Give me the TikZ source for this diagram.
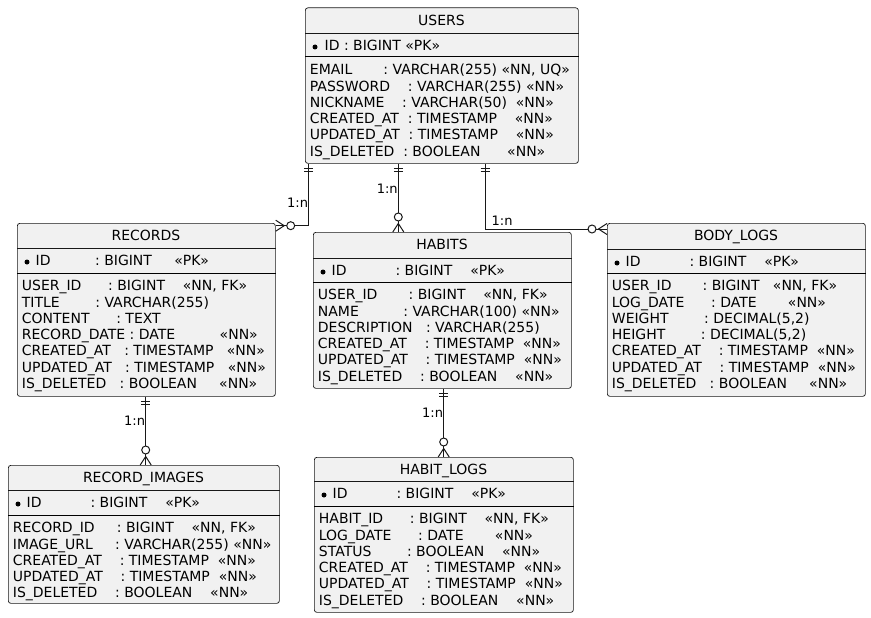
\documentclass[tikz,border=0pt]{standalone}
\usepackage{fontspec}
\setmainfont{DejaVu Sans}
\usetikzlibrary{calc}
\definecolor{entfill}{HTML}{F1F1F1}
\definecolor{entline}{HTML}{181818}
\newcommand\spc[1]{\hspace*{#1\fontdimen2\font}}
\frenchspacing

\begin{document}
\begin{tikzpicture}[
  x=1pt, y=-1pt,
  entity/.style={rectangle, draw=entline, line width=0.7pt, fill=entfill, rounded corners=2.5pt, inner sep=0pt, anchor=north west},
  enttitle/.style={inner sep=0pt, anchor=base, font=\fontsize{14}{16.3}\selectfont},
  pkrow/.style={inner sep=0pt, anchor=base west, font=\fontsize{14}{16.3}\selectfont\frenchspacing},
  fieldrows/.style={inner sep=0pt, anchor=north west, align=left, font=\fontsize{14}{16.3}\selectfont\frenchspacing},
  titlesep/.style={draw=entline, line width=0.7pt},
  pksep/.style={draw=black, line width=1pt},
  rel/.style={draw=entline, line width=1pt},
  card/.style={inner sep=0pt, font=\fontsize{13}{15}\selectfont},
  one/.pic={\draw[rel] (-4.5,5) -- (4.5,5) (-4.5,8) -- (4.5,8);},
  many/.pic={\draw[rel] (-5.5,0) -- (0,-8.5) -- (5.5,0); \draw[rel, fill=white] (0,-15) circle[radius=4pt];}
]
\useasboundingbox (0,0) rectangle (871,618);

% entity boxes
\node[entity, minimum width=273pt, minimum height=155.5pt] (users) at (305,7.5) {};
\node[entity, minimum width=258pt, minimum height=173pt] (records) at (17,223) {};
\node[entity, minimum width=258pt, minimum height=156pt] (habits) at (313,232) {};
\node[entity, minimum width=258pt, minimum height=173pt] (bodylogs) at (607,223) {};
\node[entity, minimum width=271pt, minimum height=138pt] (images) at (8,465) {};
\node[entity, minimum width=259pt, minimum height=155pt] (habitlogs) at (314,457) {};

% separators
\draw[titlesep] (users.west |- 0,33) -- (users.east |- 0,33);
\draw[pksep] (users.west |- 0,57) -- (users.east |- 0,57);
\draw[titlesep] (records.west |- 0,248) -- (records.east |- 0,248);
\draw[pksep] (records.west |- 0,273) -- (records.east |- 0,273);
\draw[titlesep] (habits.west |- 0,258) -- (habits.east |- 0,258);
\draw[pksep] (habits.west |- 0,282) -- (habits.east |- 0,282);
\draw[titlesep] (bodylogs.west |- 0,249) -- (bodylogs.east |- 0,249);
\draw[pksep] (bodylogs.west |- 0,273) -- (bodylogs.east |- 0,273);
\draw[titlesep] (images.west |- 0,490) -- (images.east |- 0,490);
\draw[pksep] (images.west |- 0,515) -- (images.east |- 0,515);
\draw[titlesep] (habitlogs.west |- 0,481) -- (habitlogs.east |- 0,481);
\draw[pksep] (habitlogs.west |- 0,506) -- (habitlogs.east |- 0,506);

% USERS
\node[enttitle] (users-title) at (441.5,25.4) {USERS};
\fill (315,47) circle[radius=2.5pt];
\node[pkrow] (users-pk) at (324.5,50.5) {ID : BIGINT «PK»};
\node[fieldrows] (users-fields) at (309.7,62.5) {\rule{0pt}{12pt}EMAIL\spc{7}: VARCHAR(255) «NN, UQ»\\
  PASSWORD\spc{4}: VARCHAR(255) «NN»\\
  NICKNAME\spc{4}: VARCHAR(50)\spc{2}«NN»\\
  CREATED\_AT\spc{2}: TIMESTAMP\spc{4}«NN»\\
  UPDATED\_AT\spc{2}: TIMESTAMP\spc{4}«NN»\\
  IS\_DELETED\spc{2}: BOOLEAN\spc{6}«NN»};

% RECORDS
\node[enttitle] (records-title) at (146,240.7) {RECORDS};
\fill (27,262) circle[radius=2.5pt];
\node[pkrow] (records-pk) at (35.5,265.5) {ID\spc{10}: BIGINT\spc{5}«PK»};
\node[fieldrows] (records-fields) at (21.7,278.5) {\rule{0pt}{12pt}USER\_ID\spc{6}: BIGINT\spc{4}«NN, FK»\\
  TITLE\spc{8}: VARCHAR(255)\\
  CONTENT\spc{6}: TEXT\\
  RECORD\_DATE : DATE\spc{10}«NN»\\
  CREATED\_AT\spc{3}: TIMESTAMP\spc{3}«NN»\\
  UPDATED\_AT\spc{3}: TIMESTAMP\spc{3}«NN»\\
  IS\_DELETED\spc{3}: BOOLEAN\spc{5}«NN»};

% HABITS
\node[enttitle] (habits-title) at (442,249.7) {HABITS};
\fill (323,272) circle[radius=2.5pt];
\node[pkrow] (habits-pk) at (331.5,275.5) {ID\spc{11}: BIGINT\spc{4}«PK»};
\node[fieldrows] (habits-fields) at (317.7,287.5) {\rule{0pt}{12pt}USER\_ID\spc{7}: BIGINT\spc{4}«NN, FK»\\
  NAME\spc{10}: VARCHAR(100) «NN»\\
  DESCRIPTION\spc{3}: VARCHAR(255)\\
  CREATED\_AT\spc{4}: TIMESTAMP\spc{2}«NN»\\
  UPDATED\_AT\spc{4}: TIMESTAMP\spc{2}«NN»\\
  IS\_DELETED\spc{4}: BOOLEAN\spc{4}«NN»};

% BODY_LOGS
\node[enttitle] (bodylogs-title) at (736,240.7) {BODY\_LOGS};
\fill (617,263) circle[radius=2.5pt];
\node[pkrow] (bodylogs-pk) at (625.5,266.5) {ID\spc{11}: BIGINT\spc{4}«PK»};
\node[fieldrows] (bodylogs-fields) at (611.7,278.5) {\rule{0pt}{12pt}USER\_ID\spc{7}: BIGINT\spc{3}«NN, FK»\\
  LOG\_DATE\spc{6}: DATE\spc{7}«NN»\\
  WEIGHT\spc{8}: DECIMAL(5,2)\\
  HEIGHT\spc{8}: DECIMAL(5,2)\\
  CREATED\_AT\spc{4}: TIMESTAMP\spc{2}«NN»\\
  UPDATED\_AT\spc{4}: TIMESTAMP\spc{2}«NN»\\
  IS\_DELETED\spc{3}: BOOLEAN\spc{5}«NN»};

% RECORD_IMAGES
\node[enttitle] (images-title) at (143.5,482.7) {RECORD\_IMAGES};
\fill (18,504) circle[radius=2.5pt];
\node[pkrow] (images-pk) at (26.5,507.5) {ID\spc{11}: BIGINT\spc{4}«PK»};
\node[fieldrows] (images-fields) at (12.7,520.5) {\rule{0pt}{12pt}RECORD\_ID\spc{5}: BIGINT\spc{4}«NN, FK»\\
  IMAGE\_URL\spc{5}: VARCHAR(255) «NN»\\
  CREATED\_AT\spc{4}: TIMESTAMP\spc{2}«NN»\\
  UPDATED\_AT\spc{4}: TIMESTAMP\spc{2}«NN»\\
  IS\_DELETED\spc{4}: BOOLEAN\spc{4}«NN»};

% HABIT_LOGS
\node[enttitle] (habitlogs-title) at (443.5,474.7) {HABIT\_LOGS};
\fill (324,495) circle[radius=2.5pt];
\node[pkrow] (habitlogs-pk) at (332.5,498.5) {ID\spc{11}: BIGINT\spc{4}«PK»};
\node[fieldrows] (habitlogs-fields) at (318.7,511.5) {\rule{0pt}{12pt}HABIT\_ID\spc{6}: BIGINT\spc{4}«NN, FK»\\
  LOG\_DATE\spc{6}: DATE\spc{7}«NN»\\
  STATUS\spc{8}: BOOLEAN\spc{4}«NN»\\
  CREATED\_AT\spc{4}: TIMESTAMP\spc{2}«NN»\\
  UPDATED\_AT\spc{4}: TIMESTAMP\spc{2}«NN»\\
  IS\_DELETED\spc{4}: BOOLEAN\spc{4}«NN»};

% relations
\coordinate (ur) at (308.7,225.7);
\coordinate (uh) at (398.3,200);
\coordinate (ub) at (485,229);
\coordinate (ri) at (145.7,430);
\coordinate (hl) at (443.7,420);
\draw[rel] (users.south -| ur) -- (ur) -- (records.east |- ur);
\draw[rel] (users.south -| uh) -- (habits.north -| uh);
\draw[rel] (users.south -| ub) -- (ub) -- (bodylogs.west |- ub);
\draw[rel] (records.south -| ri) -- (images.north -| ri);
\draw[rel] (habits.south -| hl) -- (habitlogs.north -| hl);
\pic at (users.south -| ur) {one};
\pic at (users.south -| uh) {one};
\pic at (users.south -| ub) {one};
\pic at (records.south -| ri) {one};
\pic at (habits.south -| hl) {one};
\pic[rotate=-90] at (records.east |- ur) {many};
\pic at (habits.north -| uh) {many};
\pic[rotate=90] at (bodylogs.west |- ub) {many};
\pic at (images.north -| ri) {many};
\pic at (habitlogs.north -| hl) {many};

% cardinality labels
\node[card, anchor=base east] (card-ur) at (308.3,207.7) {1:n};
\node[card, anchor=base east] (card-uh) at (397.9,193.3) {1:n};
\node[card, anchor=base west] (card-ub) at (491.5,225) {1:n};
\node[card, anchor=base east] (card-ri) at (145.3,425.3) {1:n};
\node[card, anchor=base east] (card-hl) at (443.3,417.3) {1:n};
\end{tikzpicture}
\end{document}
